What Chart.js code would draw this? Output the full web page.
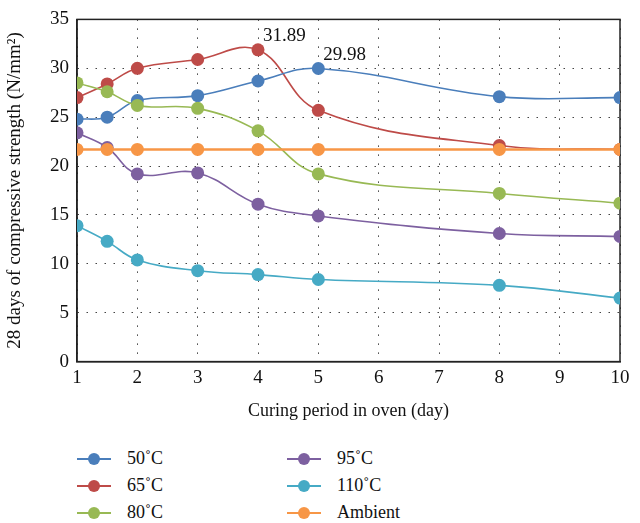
<!DOCTYPE html>
<html lang="en">
<head>
  <meta charset="UTF-8" />
  <title>Compressive strength vs curing period</title>
  <script src="https://cdn.jsdelivr.net/npm/chart.js"></script>
  <style>
    body { margin: 0; background: #fff; font-family: "Liberation Serif", serif; }
    #wrap { width: 640px; height: 440px; position: relative; }
    #legend { position: relative; width: 640px; height: 83px; }
    .item { position: absolute; display: flex; align-items: center; font-size: 18px; color: #111; }
    .swatch { position: relative; width: 34px; height: 12px; margin-right: 16px; }
    .swatch i { position: absolute; left: 0; right: 0; top: 5px; height: 2.5px; }
    .swatch b { position: absolute; left: 11px; top: 0; width: 12px; height: 12px; border-radius: 50%; }
  </style>
</head>
<body>
<div id="wrap"><canvas id="chart" width="640" height="440"></canvas></div>
<div id="legend"></div>

<script>
const days = [1, 1.5, 2, 3, 4, 5, 8, 10];
const s50 = [24.8, 25.0, 26.7, 27.2, 28.7, 29.98, 27.1, 27.0];
const s65 = [27.0, 28.4, 30.0, 30.9, 31.89, 25.7, 22.1, 21.7];
const s80 = [28.5, 27.6, 26.2, 25.9, 23.6, 19.2, 17.2, 16.2];
const s95 = [23.4, 21.9, 19.2, 19.3, 16.1, 14.9, 13.1, 12.8];
const s110 = [13.9, 12.3, 10.4, 9.3, 8.9, 8.4, 7.8, 6.5];
const ambient = [21.7, 21.7, 21.7, 21.7, 21.7, 21.7, 21.7, 21.7];

const seriesNames = ['50˚C', '65˚C', '80˚C', '95˚C', '110˚C', 'Ambient'];
const seriesData = [s50, s65, s80, s95, s110, ambient];
const colors = ['#4a7ebb', '#be4b48', '#98b954', '#7d60a0', '#46aac5', '#f79646'];
// value labels shown on the chart: [series index, point index]
const callouts = [[1, 4], [0, 5]];

const datasets = seriesNames.map((name, i) => ({
  label: name,
  data: days.map((d, j) => ({ x: d, y: seriesData[i][j] })),
  borderColor: colors[i],
  backgroundColor: colors[i],
  borderWidth: i === 5 ? 2.5 : 1.6,
  pointRadius: 6.5,
  pointHoverRadius: 6.5,
  pointBorderWidth: 0,
  tension: 0.4,
  fill: false
}));
// draw ambient under the others, like the original
const order = [5, 4, 3, 2, 0, 1];
order.forEach((k, n) => datasets[k].order = n + 1);

const font = { family: '"Liberation Serif", serif', size: 19 };

const boxPlugin = {
  id: 'box',
  beforeDatasetsDraw(chart) {
    const a = chart.chartArea, ctx = chart.ctx;
    ctx.save();
    ctx.strokeStyle = '#222';
    ctx.lineWidth = 1.5;
    ctx.strokeRect(a.left, a.top, a.right - a.left, a.bottom - a.top);
    ctx.restore();
  },
  afterDatasetsDraw(chart) {
    const ctx = chart.ctx, xs = chart.scales.x, ys = chart.scales.y;
    ctx.save();
    ctx.font = '19px "Liberation Serif", serif';
    ctx.fillStyle = '#111';
    ctx.textBaseline = 'bottom';
    callouts.forEach(([si, pi]) => {
      const v = seriesData[si][pi];
      ctx.fillText(v.toFixed(2), xs.getPixelForValue(days[pi]) + 5, ys.getPixelForValue(v) - 4);
    });
    ctx.restore();
  }
};

new Chart(document.getElementById('chart'), {
  type: 'line',
  data: { datasets },
  options: {
    responsive: false,
    animation: false,
    layout: { padding: { top: 8, right: 20, left: 0, bottom: 14 } },
    plugins: { legend: { display: false }, tooltip: { enabled: false } },
    scales: {
      x: {
        type: 'linear', min: 1, max: 10,
        ticks: { stepSize: 1, color: '#111', font, padding: 5 },
        grid: { color: '#444', lineWidth: 1, drawTicks: false },
        border: { color: '#222', width: 1.5, dash: [1.5, 7.5] },
        title: { display: true, text: 'Curing period in oven (day)', color: '#111', font: { ...font, size: 18 }, padding: { top: 6 } }
      },
      y: {
        min: 0, max: 35,
        ticks: { stepSize: 5, color: '#111', font, padding: 8 },
        grid: { color: '#444', lineWidth: 1, drawTicks: false },
        border: { color: '#222', width: 1.5, dash: [1.5, 7.5] },
        title: { display: true, text: '28 days of compressive strength (N/mm²)', color: '#111', font, padding: { bottom: 4 } },
        afterFit(s) { s.width = 77; }
      }
    }
  },
  plugins: [boxPlugin]
});

// legend, two columns of three
const legend = document.getElementById('legend');
seriesNames.forEach((name, i) => {
  const el = document.createElement('div');
  el.className = 'item';
  el.style.left = (i < 3 ? 77 : 287) + 'px';
  el.style.top = (8 + (i % 3) * 27) + 'px';
  el.innerHTML = '<span class="swatch"><i style="background:' + colors[i] + '"></i><b style="background:' + colors[i] + '"></b></span>' + name;
  legend.appendChild(el);
});
</script>
</body>
</html>
